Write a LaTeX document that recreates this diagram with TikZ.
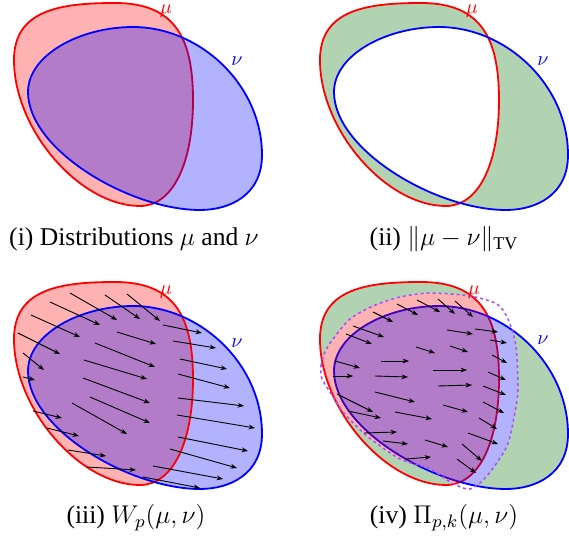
\RequirePackage{fix-cm}
\documentclass[tikz,border=0pt]{standalone}
\usepackage{fontspec}
\setmainfont{Liberation Serif}
\usepackage{amsmath}
\usetikzlibrary{arrows.meta}

\definecolor{tvgreen}{RGB}{178,211,178}
\definecolor{projviolet}{RGB}{166,77,255}

% the two distributions and the projected support, in panel coordinates
\newcommand\muPath{(14,60) .. controls (14,10) and (60,3) .. (115,3) .. controls (175,3) and (193,38) .. (193,100) .. controls (193,165) and (172,206) .. (140,206) .. controls (80,206) and (14,130) .. cycle}
\newcommand\nuPath{(28,92) .. controls (28,55) and (80,27) .. (133,27) .. controls (200,27) and (262,85) .. (262,155) .. controls (262,195) and (230,210) .. (200,210) .. controls (130,210) and (28,150) .. cycle}
\newcommand\projPath{plot[smooth cycle,tension=0.45] coordinates {(16,100) (15,87) (19,73) (27,60) (44,40) (67,27) (94,18) (124,14) (164,17) (191,25) (202,40) (210,67) (212,110) (209,133) (201,167) (181,197) (164,210) (146,204) (124,190) (94,180) (61,157) (37,133) (24,113)}}

\tikzset{
  mupen/.style={draw=red,line width=0.9pt},
  nupen/.style={draw=blue,line width=0.9pt},
  mufill/.style={fill=red,fill opacity=0.3},
  nufill/.style={fill=blue,fill opacity=0.3},
  projpen/.style={draw=projviolet,line width=0.75pt,dash pattern=on 1.5pt off 1.5pt},
  transport/.style={line width=0.45pt,-{Stealth[length=3.2pt,width=2.4pt]}},
  caption/.style={font=\fontsize{12.8}{15}\selectfont},
}

\begin{document}
\begin{tikzpicture}[x=0.5pt,y=-0.5pt]
\useasboundingbox (0,0) rectangle (569,540);

% (i)
\begin{scope}
\path[mufill] \muPath;
\path[mupen] \muPath;
\path[nufill] \nuPath;
\path[nupen] \nuPath;
\node[red] (mu1) at (166,11) {$\mu$};
\node[blue] (nu1) at (237,61) {$\nu$};
\node[caption] (cap1) at (134,239) {(i) Distributions $\mu$ and $\nu$};
\end{scope}

% (ii)
\begin{scope}[shift={(306,0)}]
\fill[tvgreen,even odd rule] \muPath \nuPath;
\path[mupen] \muPath;
\path[nupen] \nuPath;
\node[red] (mu2) at (166,11) {$\mu$};
\node[blue] (nu2) at (237,61) {$\nu$};
\node[caption] (cap2) at (138,239) {(ii) $\|\mu-\nu\|_{\mathrm{TV}}$};
\end{scope}

% (iii)
\begin{scope}[shift={(0,279)}]
\path[mufill] \muPath;
\path[nufill] \nuPath;
\path[mupen] \muPath;
\path[nupen] \nuPath;
\node[red] (mu3) at (166,13) {$\mu$};
\node[blue] (nu3) at (237,64) {$\nu$};
\node[caption] (cap3) at (136,239) {(iii) $W_p(\mu,\nu)$};
\end{scope}
\foreach \xa/\ya/\xb/\yb in {70/293/117/320, 105/295/140/319, 127/294/160/321, 50/302/100/325,
  31/315/80/337, 18/333/60/354, 23/353/44/370, 23/377/35/380, 117/332/156/344, 95/343/155/367,
  84/360/147/379, 83/378/150/403, 90/397/150/423, 163/325/202/333, 173/341/216/348,
  180/359/227/369, 178/374/230/388, 178/398/244/406, 177/415/255/428, 178/437/248/451,
  170/449/237/468, 153/466/223/479, 143/477/200/488, 72/403/127/434, 33/411/62/418,
  47/428/79/436, 68/450/106/456, 87/467/136/470}
  \draw[transport] (\xa,\ya) -- (\xb,\yb);

% (iv)
\begin{scope}[shift={(306,279)}]
\fill[tvgreen] \muPath;
\fill[tvgreen] \nuPath;
\fill[white] \projPath;
\path[mupen] \muPath;
\path[nupen] \nuPath;
\begin{scope}
\clip \projPath;
\path[mufill] \muPath;
\path[nufill] \nuPath;
\end{scope}
\path[projpen] \projPath;
\node[red] (mu4) at (168,13) {$\mu$};
\node[blue] (nu4) at (237,61) {$\nu$};
\node[caption] (cap4) at (138,239) {(iv) $\Pi_{p,k}(\mu,\nu)$};
\end{scope}
\foreach \xa/\ya/\xb/\yb in {397/304/418/315, 417/300/440/312, 373/312/393/322, 353/326/384/337,
  346/334/372/344, 416/347/435/353, 335/361/360/368, 381/361/409/361, 333/376/353/376,
  375/376/408/377, 433/370/467/370, 438/299/455/314, 455/301/473/317, 447/330/473/334,
  475/329/498/332, 490/340/507/343, 450/346/468/352, 492/355/507/363, 488/372/506/380,
  438/386/472/385, 483/386/506/395, 443/405/468/412, 483/402/504/413, 479/418/497/429,
  468/433/498/444, 425/440/448/447, 462/444/482/461, 457/459/476/473, 375/392/415/402,
  337/394/373/412, 348/411/381/418, 395/412/432/419, 364/433/397/432, 383/441/408/444,
  406/459/431/457}
  \draw[transport] (\xa,\ya) -- (\xb,\yb);
\end{tikzpicture}
\end{document}
